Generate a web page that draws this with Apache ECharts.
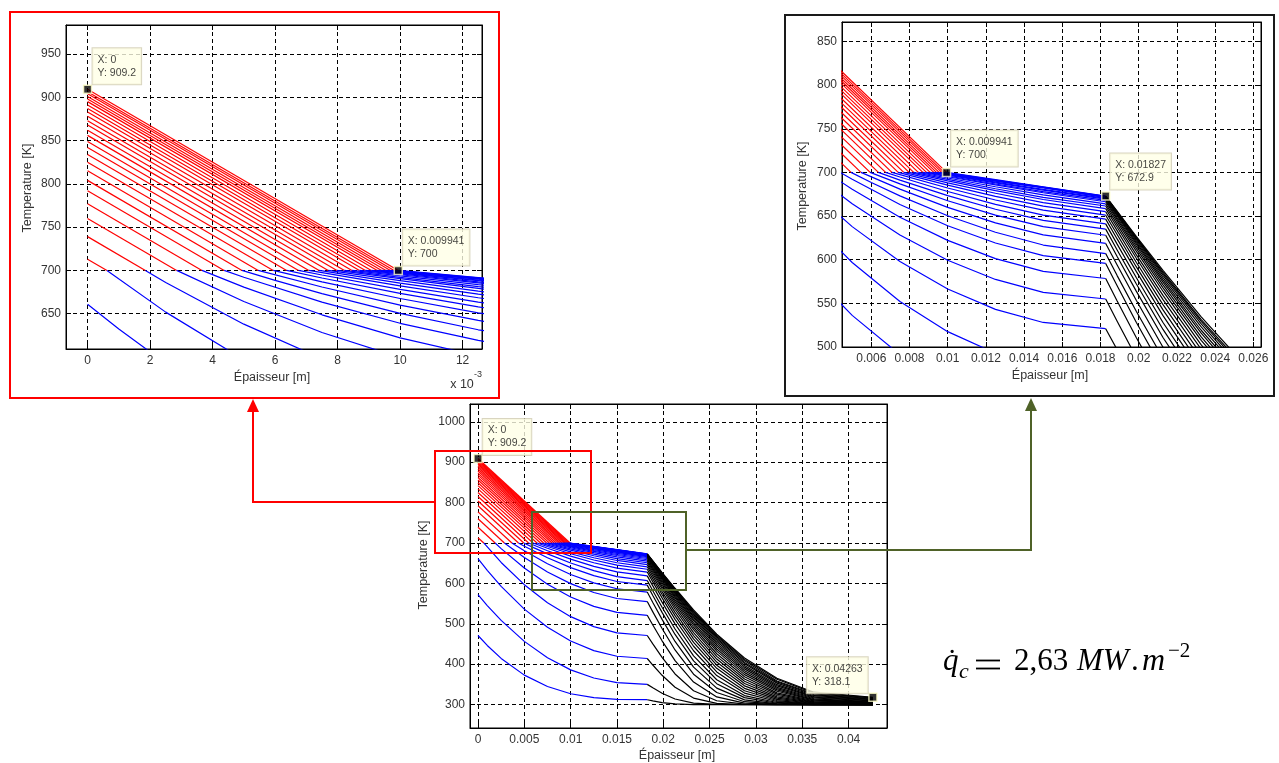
<!DOCTYPE html>
<html><head><meta charset="utf-8">
<script src="https://cdn.jsdelivr.net/npm/echarts@6/dist/echarts.min.js"></script>
<style>html,body{margin:0;padding:0;background:#fff}#c{width:1279px;height:763px}</style>
</head><body><div id="c"></div>
<script>
// ---------------- DATA ----------------
const FRONT_T = 700; // temperature where red (above) turns blue
// red part of each profile: [surface temperature at x=0, x where it reaches 700 K]
const redCurves = [
  [713,0.00062],[739,0.00185],[760,0.00285],[777,0.00366],[792,0.00437],[804,0.00494],
  [815,0.00546],[825,0.00594],[834,0.00637],[842,0.00675],[849,0.00708],[856,0.00741],
  [862,0.0077],[868,0.00798],[873,0.00822],[878,0.00846],[883,0.0087],[887,0.00889],
  [891,0.00908],[895,0.00927],[898,0.00941],[901,0.00955],[904,0.00969],[906.5,0.00981],[909.2,0.009941]
];
// blue part of each profile: [x, T] points up to the interface x = 0.01827
const blueCurves = [
  [[0,471],[0.001,446.3],[0.0025,414.3],[0.005,372.9],[0.0075,344.6],[0.01,326.8],[0.0125,317],[0.015,312.9],[0.01827,312]],
  [[0,572],[0.001,545],[0.0025,508.3],[0.005,456.4],[0.0075,415.8],[0.01,385.9],[0.0125,365.7],[0.015,354.2],[0.01827,350]],
  [[0,661],[0.001,632.2],[0.0025,592.7],[0.005,536.2],[0.0075,491.2],[0.01,457.2],[0.0125,433.6],[0.015,419.6],[0.01827,414]],
  [[0.00062,700],[0.0025,651.8],[0.005,596.8],[0.0075,552.2],[0.01,517.6],[0.0125,492.9],[0.015,477.6],[0.01827,471]],
  [[0.00185,700],[0.0025,686.1],[0.005,637.9],[0.0075,598],[0.01,566.4],[0.0125,543.1],[0.015,528.1],[0.01827,521]],
  [[0.00285,700],[0.005,664],[0.0075,628.3],[0.01,599.4],[0.0125,577.4],[0.015,562.6],[0.01827,555]],
  [[0.00366,700],[0.005,680.7],[0.0075,648.7],[0.01,622.1],[0.0125,601.3],[0.015,586.7],[0.01827,578.5]],
  [[0.00437,700],[0.005,692.1],[0.0075,663.3],[0.01,638.9],[0.0125,619.1],[0.015,604.6],[0.01827,595.7]],
  [[0.00494,700],[0.006,688.4],[0.0075,673.1],[0.01,650.3],[0.0125,631.4],[0.015,616.8],[0.01827,607]],
  [[0.00546,700],[0.0075,680.8],[0.01,659.9],[0.0125,642.2],[0.015,628.4],[0.01827,618.6]],
  [[0.00594,700],[0.0075,686.8],[0.01,667.5],[0.0125,651],[0.015,637.8],[0.01827,628]],
  [[0.00637,700],[0.0075,691.2],[0.01,673.4],[0.0125,657.8],[0.015,645],[0.01827,635]],
  [[0.00675,700],[0.0075,694.7],[0.01,678.1],[0.0125,663.4],[0.015,651.1],[0.01827,641]],
  [[0.00708,700],[0.01,682.1],[0.0125,668.4],[0.015,656.7],[0.01827,646.5]],
  [[0.00741,700],[0.01,685.4],[0.0125,672.5],[0.015,661.3],[0.01827,651]],
  [[0.0077,700],[0.01,688.1],[0.0125,676.1],[0.015,665.4],[0.01827,655]],
  [[0.00798,700],[0.01,690.4],[0.0125,679.2],[0.015,669],[0.01827,658.5]],
  [[0.00822,700],[0.01,692],[0.0125,681.3],[0.015,671.5],[0.01827,661.5]],
  [[0.00846,700],[0.01,693.6],[0.0125,683.6],[0.015,674.2],[0.01827,664]],
  [[0.0087,700],[0.01,695],[0.0125,685.7],[0.015,676.7],[0.01827,666.4]],
  [[0.00889,700],[0.01,695.9],[0.0125,686.7],[0.015,678],[0.01827,668]],
  [[0.00908,700],[0.01,696.8],[0.0125,688.1],[0.015,679.7],[0.01827,669.3]],
  [[0.00927,700],[0.01,697.5],[0.0125,688.9],[0.015,680.6],[0.01827,670.3]],
  [[0.00941,700],[0.01,698.1],[0.0125,689.9],[0.015,682.9],[0.01827,671.1]],
  [[0.00955,700],[0.01,698.5],[0.0125,690.4],[0.015,682.3],[0.01827,671.7]],
  [[0.00969,700],[0.01,699],[0.0125,690.9],[0.015,682.8],[0.01827,672.2]],
  [[0.00981,700],[0.01,699.4],[0.0125,691.3],[0.015,683.2],[0.01827,672.6]],
  [[0.009941,700],[0.0125,691.7],[0.015,683.4],[0.01827,672.9]]
];
// black part (third layer): temperatures at the positions in blackX
const blackX = [0.01827,0.01887,0.01987,0.02127,0.02327,0.02577,0.02877,0.03227,0.03627,0.04263];
const blackCurves = [
  [312,309.1,304.9,301.5,300.1,300,300,300,300,300],
  [350,341.4,328.1,313.8,303.5,300.3,300,300,300,300],
  [414,397.9,372.5,342.8,316,303,300.2,300,300,300],
  [471,450.1,416.6,375.8,334.2,309.4,301.2,300,300,300],
  [521,496.9,457.8,408.7,355.7,319,303.5,300.3,300,300],
  [555,529.5,488.2,435.2,375.2,329.8,307.1,300.9,300.1,300],
  [578.5,552.6,510.8,456.2,392.7,340.7,311.6,301.8,300.1,300],
  [595.7,570.1,528.3,473.6,408.1,351.7,317.2,303.3,300.5,300],
  [607,581.8,541,487,420.7,361.4,322.3,305.2,300.7,300],
  [618.6,593.9,553.6,499.8,433.2,371.7,328.4,307.5,301.2,300],
  [628,603.7,564,510.9,444.3,380.7,334.1,310,301.7,300.1],
  [635,611.2,572.4,520.1,454.1,389.8,340.2,312.9,302.6,300.5],
  [641,617.8,579.6,528.1,462.7,397.5,346.4,315.9,303.5,301],
  [646.5,623.8,586.6,536,470.8,405.3,352.3,319.1,304.7,301.5],
  [651,628.9,592,542.5,478.3,412.7,357.9,322.5,306,302],
  [655,633.3,597.1,548.5,485.3,419.3,363.2,325.9,307.5,303],
  [658.5,637.2,601.9,554.2,491.4,425.8,368.8,329,309,304],
  [661.5,640.5,605.8,559.2,497.4,432.3,374.1,332.9,310.8,305],
  [664,643.6,609.8,563.9,502.4,437.6,379,336.4,312.4,306],
  [666.4,646.2,612.9,567.8,507.7,442.9,383.9,339.6,314.3,307.5],
  [668,648.1,615.7,571.2,511.6,447.6,388.3,342.7,316.2,309],
  [669.3,650.1,618,574.4,516,452.1,392.7,346.2,318.1,310.5],
  [670.3,651.4,619.9,577,519.2,456.6,396.6,349.2,319.6,312],
  [671.1,652.5,621.7,579.4,523,460.7,401.3,353.1,321.9,313.5],
  [671.7,653.5,623.4,582.1,526.4,464.3,404.4,356.1,324.2,315],
  [672.2,654.3,624.6,584,529.3,467.9,408.3,358.4,326.1,316.2],
  [672.6,655.1,625.7,585.8,531.4,471,411.8,362.6,328.3,317.2],
  [672.9,655.8,626.7,587.9,534.6,474.1,415.2,365.3,330.6,318.1]
];
// data tips
const tipsLeft   = [[0,909.2],[0.009941,700]];
const tipsRight  = [[0.009941,700],[0.01827,672.9]];
const tipsBottom = [[0,909.2],[0.04263,318.1]];
// tick values
const leftXTicks   = [0,0.002,0.004,0.006,0.008,0.01,0.012];
const leftYTicks   = [650,700,750,800,850,900,950];
const rightXTicks  = [0.006,0.008,0.01,0.012,0.014,0.016,0.018,0.02,0.022,0.024,0.026];
const rightYTicks  = [500,550,600,650,700,750,800,850];
const bottomXTicks = [0,0.005,0.01,0.015,0.02,0.025,0.03,0.035,0.04];
const bottomYTicks = [300,400,500,600,700,800,900,1000];

// ---------------- CHART ----------------
const FONT = '"Liberation Sans", Arial, sans-serif';
const LBL = '#333';
const panels = [
  {grid:{left:66,top:25,width:416,height:324}, xr:[-0.00069,0.01262], yr:[609.2,983.5], xt:leftXTicks, yt:leftYTicks,
   xf:v=>String(Math.round(v*1000)), tips:tipsLeft, tipOff:[[5,-41],[4.5,-41]]},
  {grid:{left:842,top:22,width:419,height:325}, xr:[0.004467,0.0264], yr:[500,872.3], xt:rightXTicks, yt:rightYTicks,
   xf:v=>String(parseFloat(v.toFixed(4))), tips:tipsRight, tipOff:[[4.5,-42],[4.5,-42.5]]},
  {grid:{left:470,top:404,width:417,height:324}, xr:[-0.000864,0.04415], yr:[242,1044], xt:bottomXTicks, yt:bottomYTicks,
   xf:v=>String(parseFloat(v.toFixed(4))), tips:tipsBottom, tipOff:[[4.7,-39.5],[-66,-40]]}
];
const grid=[], xAxis=[], yAxis=[], series=[];
panels.forEach((p,gi)=>{
  grid.push(Object.assign({show:true,borderColor:'#000',borderWidth:1,backgroundColor:'#fff',containLabel:false},p.grid));
  const tick = vals => ({show:true,inside:true,length:5,customValues:vals,lineStyle:{color:'#000',width:1}});
  xAxis.push({type:'value',gridIndex:gi,min:p.xr[0],max:p.xr[1],position:'bottom',
    axisLine:{show:true,onZero:false,lineStyle:{color:'#000'}},axisTick:tick(p.xt),
    axisLabel:{customValues:p.xt,formatter:p.xf,margin:6,fontSize:12,color:LBL,fontFamily:FONT},
    splitLine:{show:true,lineStyle:{color:'#000',width:1,type:[4,3]}}});
  xAxis.push({type:'value',gridIndex:gi,min:p.xr[0],max:p.xr[1],position:'top',
    axisLine:{show:true,onZero:false,lineStyle:{color:'#000'}},axisTick:tick(p.xt),
    axisLabel:{show:false},splitLine:{show:false}});
  yAxis.push({type:'value',gridIndex:gi,min:p.yr[0],max:p.yr[1],position:'left',
    axisLine:{show:true,onZero:false,lineStyle:{color:'#000'}},axisTick:tick(p.yt),
    axisLabel:{customValues:p.yt,formatter:v=>String(v),margin:5,fontSize:12,color:LBL,fontFamily:FONT},
    splitLine:{show:true,lineStyle:{color:'#000',width:1,type:[4,3]}}});
  yAxis.push({type:'value',gridIndex:gi,min:p.yr[0],max:p.yr[1],position:'right',
    axisLine:{show:true,onZero:false,lineStyle:{color:'#000'}},axisTick:tick(p.yt),
    axisLabel:{show:false},splitLine:{show:false}});
  const xi=gi*2, yi=gi*2;
  const ln=(data,color)=>({type:'line',xAxisIndex:xi,yAxisIndex:yi,data,symbol:'none',showSymbol:false,
    lineStyle:{color,width:1.2},silent:true,animation:false,clip:true,z:2});
  redCurves.forEach(c=>series.push(ln([[0,c[0]],[c[1],FRONT_T]],'#ff0000')));
  blueCurves.forEach(c=>series.push(ln(c,'#0000ff')));
  blackCurves.forEach(c=>series.push(ln(blackX.map((x,k)=>[x,c[k]]),'#000000')));
  series.push({type:'scatter',xAxisIndex:xi,yAxisIndex:yi,clip:false,silent:true,animation:false,z:10,
    symbol:'rect',symbolSize:8,itemStyle:{color:'#000',borderColor:'#ffffc8',borderWidth:1.5},
    data:p.tips.map((t,k)=>({value:t,label:{offset:[p.tipOff[k][0],p.tipOff[k][1]]}})),
    label:{show:true,position:'inside',align:'left',verticalAlign:'top',
      formatter:d=>'X: '+d.value[0]+'\nY: '+d.value[1],
      fontSize:10.5,lineHeight:13,color:'#111',fontFamily:FONT,backgroundColor:'#ffffe6',
      borderColor:'#cfcab0',borderWidth:1,padding:[5,5,5,5]}});
});

const txt=(x,y,text,o)=>Object.assign({type:'text',x,y,z:50,silent:true,
  style:Object.assign({text,fill:'#333',fontSize:12.5,fontFamily:FONT,align:'center',verticalAlign:'middle'},(o&&o.style)||{})},
  o&&o.rotation?{rotation:o.rotation}:{});
const serif='"Liberation Serif", "DejaVu Serif", serif';
const fm=(x,y,text,size,italic)=>({type:'text',x,y,z:50,silent:true,style:{text,fill:'#000',fontSize:size,fontFamily:serif,
  fontStyle:italic?'italic':'normal',align:'left',verticalAlign:'middle'}});
const graphic=[
  {type:'rect',z:100,shape:{x:10,y:12,width:489,height:386},style:{fill:'none',stroke:'#ff0000',lineWidth:2}},
  {type:'rect',z:100,shape:{x:785,y:15,width:489,height:381},style:{fill:'none',stroke:'#1a1a1a',lineWidth:2}},
  {type:'rect',z:100,shape:{x:435,y:451,width:156,height:102},style:{fill:'none',stroke:'#ff0000',lineWidth:2}},
  {type:'rect',z:100,shape:{x:532,y:512,width:154,height:78},style:{fill:'none',stroke:'#4f6228',lineWidth:2}},
  {type:'polyline',z:100,shape:{points:[[435,502],[253,502],[253,410]]},style:{stroke:'#ff0000',lineWidth:2,fill:null}},
  {type:'polygon',z:100,shape:{points:[[247,412],[259,412],[253,399]]},style:{fill:'#ff0000'}},
  {type:'polyline',z:100,shape:{points:[[686,550],[1031,550],[1031,410]]},style:{stroke:'#4f6228',lineWidth:2,fill:null}},
  {type:'polygon',z:100,shape:{points:[[1025,411],[1037,411],[1031,398]]},style:{fill:'#4f6228'}},
  txt(272,378,'Épaisseur [m]'),
  txt(28,188,'Temperature [K]',{rotation:Math.PI/2}),
  txt(462,385,'x 10'),
  txt(478,375,'-3',{style:{fontSize:9}}),
  txt(1050,376,'Épaisseur [m]'),
  txt(803,186,'Temperature [K]',{rotation:Math.PI/2}),
  txt(677,756,'Épaisseur [m]'),
  txt(424,565,'Temperature [K]',{rotation:Math.PI/2}),
  fm(943,662,'q\u0307',31,true),
  fm(959,672,'c',22,true),
  {type:'line',z:50,shape:{x1:976,y1:660.5,x2:1000,y2:660.5},style:{stroke:'#000',lineWidth:1.8}},
  {type:'line',z:50,shape:{x1:976,y1:668.5,x2:1000,y2:668.5},style:{stroke:'#000',lineWidth:1.8}},
  fm(1014,662,'2,63',31,false),
  fm(1077,662,'MW',31,true),
  fm(1131,662,'.',31,false),
  fm(1142,662,'m',32,true),
  fm(1168,651,'\u22122',21,false)
];

const chart=echarts.init(document.getElementById('c'),null,{renderer:'canvas'});
chart.setOption({backgroundColor:'#fff',animation:false,grid,xAxis,yAxis,series,graphic});
</script></body></html>
